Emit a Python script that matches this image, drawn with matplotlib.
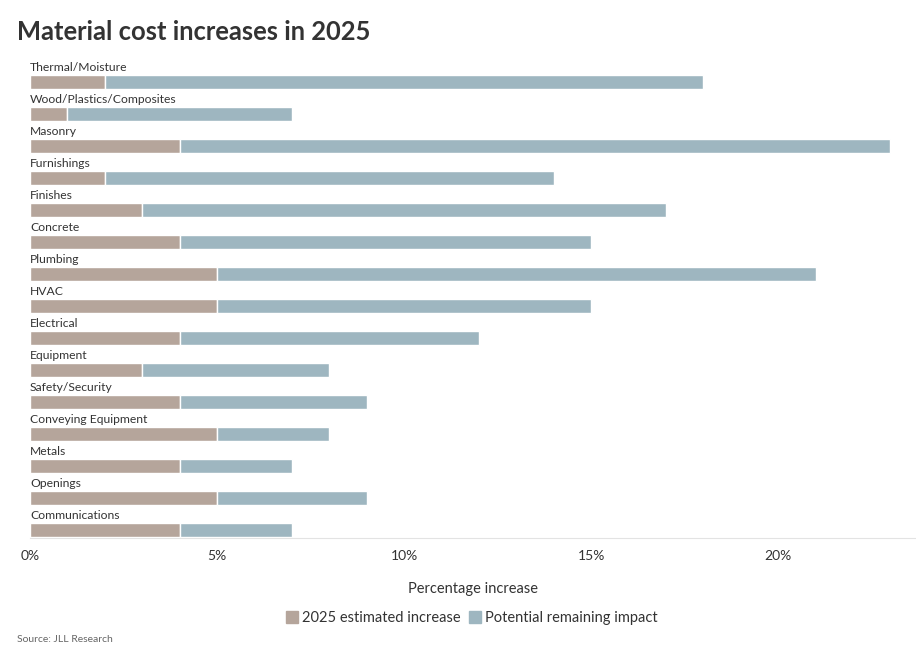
import matplotlib.pyplot as plt

categories = ['Thermal/Moisture', 'Wood/Plastics/Composites', 'Masonry', 'Furnishings',
              'Finishes', 'Concrete', 'Plumbing', 'HVAC', 'Electrical', 'Equipment',
              'Safety/Security', 'Conveying Equipment', 'Metals', 'Openings', 'Communications']
estimated = [2, 1, 4, 2, 3, 4, 5, 5, 4, 3, 4, 5, 4, 5, 4]
remaining = [16, 6, 19, 12, 14, 11, 16, 10, 8, 5, 5, 3, 3, 4, 3]
xticks = [0, 5, 10, 15, 20]
xticklabels = ['0%', '5%', '10%', '15%', '20%']

plt.rcParams['font.family'] = ['Lato', 'DejaVu Sans']
brown = '#b5a59b'
blue = '#9eb6c0'
text_col = '#333333'

fig = plt.figure(figsize=(9.16, 6.55), dpi=100)
ax = fig.add_axes([30/916, 1-538/655, 885/916, (538-53)/655])

ypos = list(range(len(categories)))
ax.barh(ypos, estimated, height=0.44, color=brown, edgecolor='white', linewidth=1)
ax.barh(ypos, remaining, left=estimated, height=0.44, color=blue, edgecolor='white', linewidth=1)

for i, name in enumerate(categories):
    ax.text(0, i - 0.27, name, va='bottom', ha='left', fontsize=8.7, color=text_col)

ax.set_xlim(0, 23.66)
ax.set_ylim(14.25, -0.9)
ax.set_yticks([])
ax.set_xticks(xticks)
ax.set_xticklabels(xticklabels, fontsize=10, color=text_col)
ax.tick_params(axis='x', length=0, pad=9)
for s in ['top', 'right', 'left']:
    ax.spines[s].set_visible(False)
ax.spines['bottom'].set_color('#e3e3e3')
ax.set_xlabel('Percentage increase', fontsize=10.5, color=text_col, labelpad=14)

fig.text(17/916, 1-32/655, 'Material cost increases in 2025', fontsize=18.4, fontweight='bold',
         color=text_col, va='center', ha='left')

handles = [plt.Rectangle((0, 0), 1, 1, color=brown), plt.Rectangle((0, 0), 1, 1, color=blue)]
fig.legend(handles, ['2025 estimated increase', 'Potential remaining impact'], loc='center',
           bbox_to_anchor=(472/916, 1-618/655), ncol=2, frameon=False, fontsize=10.5,
           handlelength=0.8, handleheight=0.8, handletextpad=0.3, columnspacing=0.6,
           labelcolor=text_col)

fig.text(17/916, 1-640/655, 'Source: JLL Research', fontsize=7.5, color='#666666',
         va='center', ha='left')

fig.savefig('out.png', dpi=100)
